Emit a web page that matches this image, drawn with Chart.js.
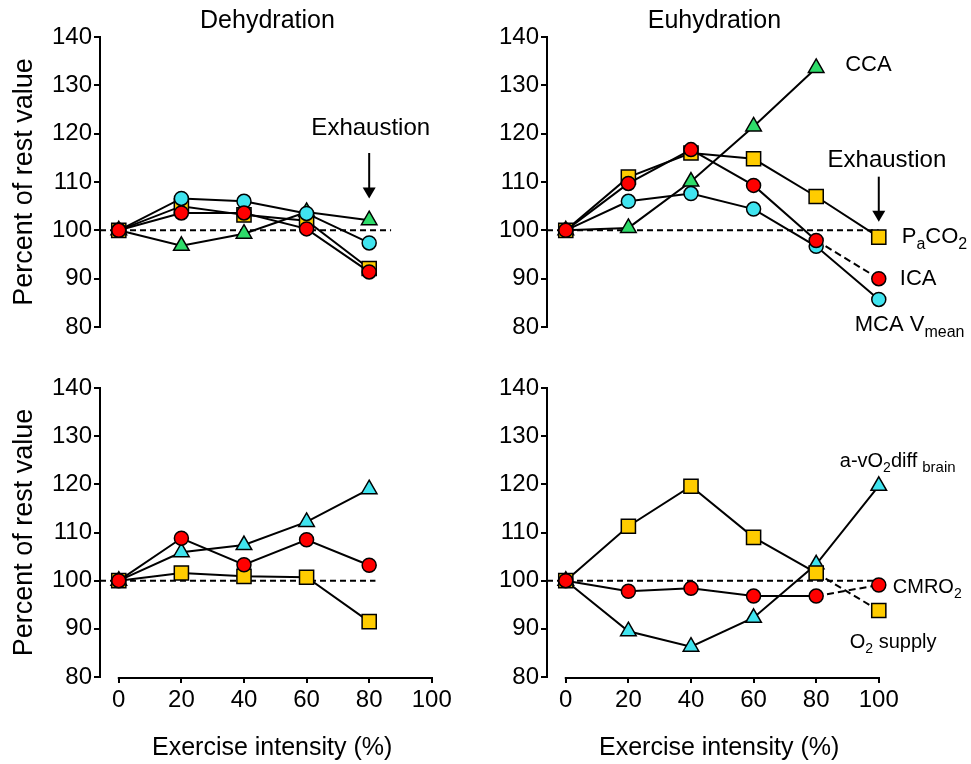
<!DOCTYPE html>
<html>
<head>
<meta charset="utf-8">
<script src="https://cdn.jsdelivr.net/npm/chart.js@4.4.0/dist/chart.umd.min.js"></script>
<style>
  body { margin: 0; background: #fff; width: 971px; height: 764px; overflow: hidden; position: relative; }
  canvas { position: absolute; }
</style>
</head>
<body>
<canvas id="dehyTop" width="480" height="360" style="left:0;top:0"></canvas>
<canvas id="euTop" width="491" height="360" style="left:480px;top:0"></canvas>
<canvas id="dehyBottom" width="480" height="404" style="left:0;top:360px"></canvas>
<canvas id="euBottom" width="491" height="404" style="left:480px;top:360px"></canvas>
<script>
// exercise intensity (%) for each stage
const intensity = [0, 20, 40, 60, 80, 100];
const xTicks = [0, 20, 40, 60, 80, 100];
const yTicks = [80, 90, 100, 110, 120, 130, 140];
const restLevel = 100;

// top row: flow / PaCO2 (percent of rest)
const dehyMca   = [100, 106.6, 106.0, 103.5, 97.4];
const dehyPaco2 = [100, 105.0, 103.2, 102.0, 92.1];
const dehyIca   = [100, 103.6, 103.6, 100.3, 91.4];
const dehyCca   = [100, 96.8, 99.3, 103.8, 102.1];

const euCca   = [100, 100.5, 110.1, 121.5, 133.6];
const euPaco2 = [100, 111.0, 116.0, 114.8, 107.0, 98.6];
const euIca   = [100, 109.7, 116.7, 109.3, 97.9, 90.0];
const euMca   = [100, 106.0, 107.6, 104.4, 96.7, 85.7];

// bottom row: brain metabolism (percent of rest)
const dehyAvo2  = [100, 105.9, 107.4, 112.2, 119.0];
const dehyCmro2 = [100, 108.8, 103.3, 108.5, 103.2];
const dehyO2    = [100, 101.6, 100.9, 100.7, 91.5];

const euAvo2  = [100, 89.5, 86.3, 92.3, 103.4, 119.7];
const euCmro2 = [100, 97.8, 98.4, 96.8, 96.8, 99.1];
const euO2    = [100, 111.3, 119.6, 109.0, 101.6, 93.8];

// where the dashed rest line stops in each panel
const restEndDehyTop = 87;
const restEndEuTop = 100;
const restEndDehyBottom = 82;
const restEndEuBottom = 100;

const FONT = "'Liberation Sans', Arial, sans-serif";
const CYAN = '#40e4ef';
const RED = '#ff0000';
const YELLOW = '#ffcc00';
const GREEN = '#2edc6a';

function series(values, shape, color, dashLast) {
    const radius = shape === 'circle' ? 7 : (shape === 'rect' ? 10 : 9);
    const ds = {
        data: values.map((v, i) => ({ x: intensity[i], y: v })),
        borderColor: '#000',
        borderWidth: 2,
        tension: 0,
        clip: false,
        pointStyle: shape,
        pointRadius: radius,
        pointBackgroundColor: color,
        pointBorderColor: '#000',
        pointBorderWidth: 1.5
    };
    if (dashLast) {
        ds.segment = {
            borderDash: c => c.p1DataIndex === values.length - 1 ? [7, 4] : undefined
        };
    }
    return ds;
}

function restLine(end) {
    return {
        data: [{ x: -6, y: restLevel }, { x: end, y: restLevel }],
        borderColor: '#000',
        borderWidth: 2,
        borderDash: [6, 4],
        pointRadius: 0,
        order: 10
    };
}

function yScale(title, width) {
    return {
        type: 'linear',
        min: yTicks[0],
        max: yTicks[yTicks.length - 1],
        afterBuildTicks: s => { s.ticks = yTicks.map(v => ({ value: v })); },
        ticks: { color: '#000', font: { family: FONT, size: 24 }, padding: 2 },
        grid: { drawOnChartArea: false, drawTicks: true, tickLength: 6, color: '#000', lineWidth: 2 },
        border: { display: true, color: '#000', width: 2 },
        title: title ? {
            display: true, text: title, color: '#000',
            font: { family: FONT, size: 27 }, padding: { top: 8, bottom: 0 }
        } : { display: false },
        afterFit: s => { s.width = width; }
    };
}

function xScale(show) {
    return {
        type: 'linear',
        min: -6,
        max: 104,
        display: show,
        afterBuildTicks: s => { s.ticks = xTicks.map(v => ({ value: v })); },
        ticks: { color: '#000', font: { family: FONT, size: 24 }, padding: 3, maxRotation: 0, autoSkip: false },
        grid: { drawOnChartArea: false, drawTicks: true, tickLength: 6, color: '#000', lineWidth: 2 },
        border: { display: false },
        title: {
            display: true, text: 'Exercise intensity (%)', color: '#000',
            font: { family: FONT, size: 25 }, padding: { top: 0, bottom: 1 }
        },
        afterFit: s => { s.height = show ? 87 : 0; }
    };
}

// text with sub/superscript parts: [text, size, dy, gapAfter]
function rich(ctx, parts, x, y) {
    ctx.save();
    ctx.fillStyle = '#000';
    ctx.textAlign = 'left';
    ctx.textBaseline = 'alphabetic';
    let cx = x;
    parts.forEach(p => {
        ctx.font = p[1] + 'px ' + FONT;
        ctx.fillText(p[0], cx, y + (p[2] || 0));
        cx += ctx.measureText(p[0]).width + (p[3] || 0);
    });
    ctx.restore();
}

function centerText(ctx, str, x, y, size) {
    ctx.save();
    ctx.fillStyle = '#000';
    ctx.font = size + 'px ' + FONT;
    ctx.textAlign = 'center';
    ctx.textBaseline = 'alphabetic';
    ctx.fillText(str, x, y);
    ctx.restore();
}

function arrow(ctx, x, y1, y2) {
    ctx.save();
    ctx.strokeStyle = '#000';
    ctx.fillStyle = '#000';
    ctx.lineWidth = 2;
    ctx.beginPath();
    ctx.moveTo(x, y1);
    ctx.lineTo(x, y2 - 8);
    ctx.stroke();
    ctx.beginPath();
    ctx.moveTo(x - 6.5, y2 - 11);
    ctx.lineTo(x + 6.5, y2 - 11);
    ctx.lineTo(x, y2);
    ctx.closePath();
    ctx.fill();
    ctx.restore();
}

function xAxisLine(chart) {
    const xs = chart.scales.x;
    const ctx = chart.ctx;
    ctx.save();
    ctx.strokeStyle = '#000';
    ctx.lineWidth = 2;
    ctx.beginPath();
    ctx.moveTo(xs.getPixelForValue(xTicks[0]) - 1, xs.top + 1);
    ctx.lineTo(xs.getPixelForValue(xTicks[xTicks.length - 1]) + 1, xs.top + 1);
    ctx.stroke();
    ctx.restore();
}

function pt(chart, x, y) {
    return [chart.scales.x.getPixelForValue(x), chart.scales.y.getPixelForValue(y)];
}

function makePanel(id, datasets, opts) {
    return new Chart(document.getElementById(id), {
        type: 'line',
        data: { datasets: datasets },
        options: {
            responsive: false,
            animation: false,
            layout: { padding: opts.padding },
            plugins: { legend: { display: false }, tooltip: { enabled: false } },
            scales: { x: xScale(opts.showX), y: yScale(opts.yTitle, opts.yWidth) }
        },
        plugins: [{ id: 'notes', afterDraw: opts.notes }]
    });
}

// Dehydration, top
makePanel('dehyTop', [
    series(dehyIca, 'circle', RED),
    series(dehyMca, 'circle', CYAN),
    series(dehyPaco2, 'rect', YELLOW),
    series(dehyCca, 'triangle', GREEN),
    restLine(restEndDehyTop)
], {
    padding: { top: 37, bottom: 33, left: 0, right: 35.7 },
    showX: false, yTitle: 'Percent of rest value', yWidth: 100,
    notes: chart => {
        const ctx = chart.ctx;
        centerText(ctx, 'Dehydration', chart.scales.x.getPixelForValue(47.5), 28, 25);
        const t = pt(chart, 80.5, 119.7);
        centerText(ctx, 'Exhaustion', t[0], t[1], 24);
        const a = pt(chart, 80, 116);
        const b = pt(chart, 80, 106.6);
        arrow(ctx, a[0], a[1], b[1]);
    }
});

// Euhydration, top
makePanel('euTop', [
    series(euIca, 'circle', RED, true),
    series(euPaco2, 'rect', YELLOW),
    series(euMca, 'circle', CYAN),
    series(euCca, 'triangle', GREEN),
    restLine(restEndEuTop)
], {
    padding: { top: 37, bottom: 33, left: 0, right: 79.7 },
    showX: false, yTitle: null, yWidth: 67,
    notes: chart => {
        const ctx = chart.ctx;
        centerText(ctx, 'Euhydration', chart.scales.x.getPixelForValue(47.5), 28, 25);
        const t = pt(chart, 102.6, 113.2);
        centerText(ctx, 'Exhaustion', t[0], t[1], 24);
        const a = pt(chart, 100, 111.1);
        const b = pt(chart, 100, 101.8);
        arrow(ctx, a[0], a[1], b[1]);

        let p = pt(chart, 80, euCca[4]);
        rich(ctx, [['CCA', 22]], p[0] + 29, p[1] + 3.5);
        p = pt(chart, 100, euPaco2[5]);
        rich(ctx, [['P', 22], ['a', 16, 6], ['CO', 22], ['2', 16, 6]], p[0] + 23, p[1] + 6);
        p = pt(chart, 100, euIca[5]);
        rich(ctx, [['ICA', 22]], p[0] + 21, p[1] + 6);
        p = pt(chart, 100, euMca[5]);
        rich(ctx, [['MCA V', 22], ['mean', 16, 6]], p[0] - 24, p[1] + 32);
    }
});

// Dehydration, bottom
makePanel('dehyBottom', [
    series(dehyCmro2, 'circle', RED),
    series(dehyO2, 'rect', YELLOW),
    series(dehyAvo2, 'triangle', CYAN),
    restLine(restEndDehyBottom)
], {
    padding: { top: 28, bottom: 0, left: 0, right: 35.7 },
    showX: true, yTitle: 'Percent of rest value', yWidth: 100,
    notes: chart => { xAxisLine(chart); }
});

// Euhydration, bottom
makePanel('euBottom', [
    series(euCmro2, 'circle', RED, true),
    series(euO2, 'rect', YELLOW, true),
    series(euAvo2, 'triangle', CYAN),
    restLine(restEndEuBottom)
], {
    padding: { top: 28, bottom: 0, left: 0, right: 79.7 },
    showX: true, yTitle: null, yWidth: 67,
    notes: chart => {
        const ctx = chart.ctx;
        xAxisLine(chart);
        let p = pt(chart, 100, euAvo2[5]);
        rich(ctx, [['a-vO', 20], ['2', 14, 5], ['diff', 20, 0, 5], ['brain', 15, 5]], p[0] - 39, p[1] - 19);
        p = pt(chart, 100, euCmro2[5]);
        rich(ctx, [['CMRO', 20], ['2', 14, 5]], p[0] + 14, p[1] + 7.5);
        p = pt(chart, 100, euO2[5]);
        rich(ctx, [['O', 20], ['2', 14, 5], [' supply', 20]], p[0] - 29, p[1] + 37);
    }
});
</script>
</body>
</html>
